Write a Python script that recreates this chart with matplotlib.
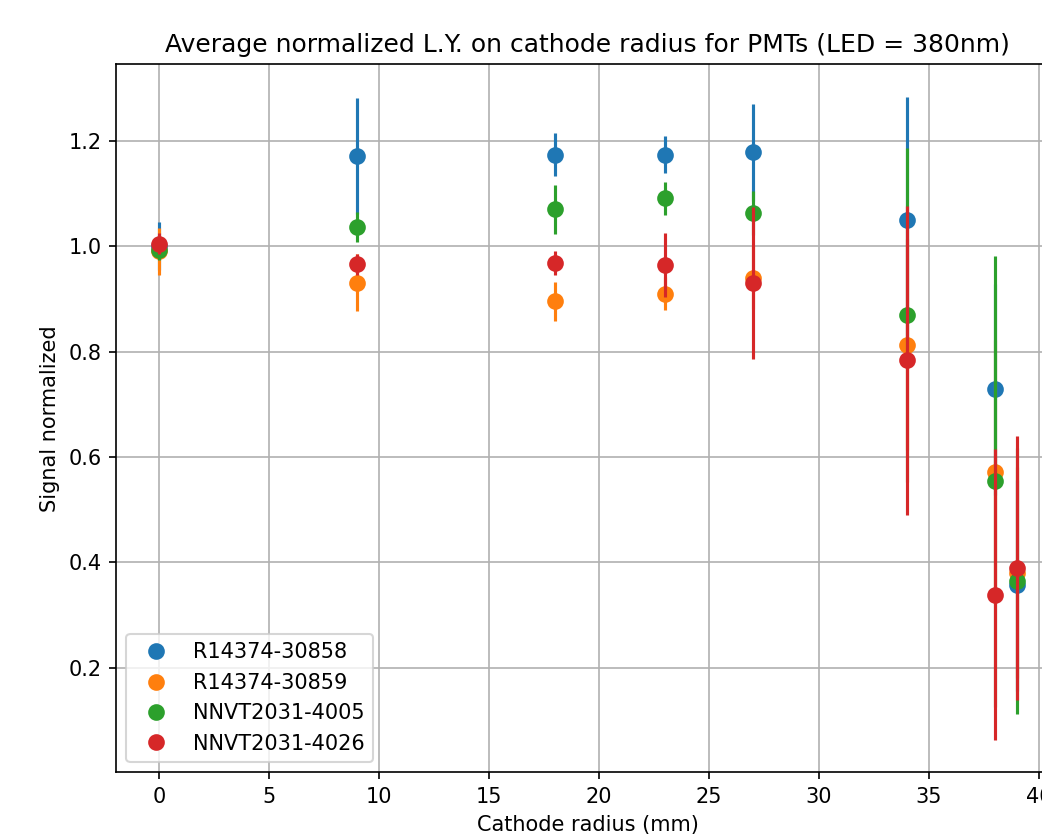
import matplotlib
matplotlib.use('Agg')
from matplotlib import pyplot as plt

# radius positions (mm)
radius = [0, 9, 18, 23, 27, 34, 38, 39]

labels = ['R14374-30858', 'R14374-30859', 'NNVT2031-4005', 'NNVT2031-4026']
colors = ['tab:blue', 'tab:orange', 'tab:green', 'tab:red']

sig_30858 = [1.000, 1.171, 1.174, 1.174, 1.178, 1.049, 0.728, 0.356]
err_30858 = [0.045, 0.110, 0.040, 0.035, 0.092, 0.235, 0.200, 0.200]

sig_30859 = [0.990, 0.931, 0.895, 0.910, 0.940, 0.813, 0.572, 0.380]
err_30859 = [0.045, 0.055, 0.037, 0.031, 0.060, 0.200, 0.250, 0.200]

sig_4005 = [0.993, 1.036, 1.070, 1.091, 1.063, 0.869, 0.554, 0.364]
err_4005 = [0.020, 0.028, 0.047, 0.031, 0.042, 0.317, 0.428, 0.252]

sig_4026 = [1.005, 0.966, 0.968, 0.964, 0.930, 0.783, 0.338, 0.389]
err_4026 = [0.020, 0.020, 0.023, 0.061, 0.144, 0.293, 0.276, 0.250]

signals = [sig_30858, sig_30859, sig_4005, sig_4026]
errors = [err_30858, err_30859, err_4005, err_4026]

fig = plt.figure(figsize=(1042/150, 835/150), dpi=150)
ax = fig.add_axes([0.1113, 0.0749, 0.9058, 0.848])

for sig, err, c, lab in zip(signals, errors, colors, labels):
    ax.errorbar(radius, sig, yerr=err, fmt='none', ecolor=c, elinewidth=1.5)
    ax.plot(radius, sig, 'o', color=c, ms=7, label=lab)

ax.grid(True)
ax.legend(loc='lower left')
ax.set_xlabel('Cathode radius (mm)')
ax.set_ylabel('Signal normalized')
ax.set_title('Average normalized L.Y. on cathode radius for PMTs (LED = 380nm)')

fig.savefig('out.png', dpi=150)
